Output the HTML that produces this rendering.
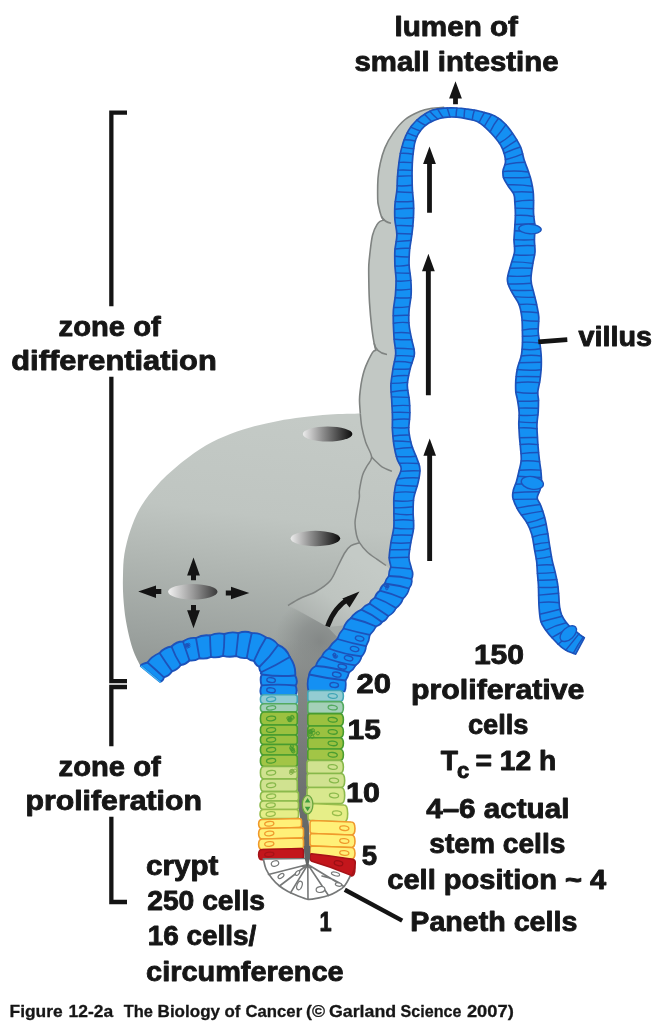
<!DOCTYPE html>
<html lang="en"><head><meta charset="utf-8"><title>Figure 12-2a The Biology of Cancer</title>
<style>
html,body{margin:0;padding:0;background:#fff;}
body{width:665px;height:1024px;overflow:hidden;}
svg{display:block;will-change:transform;}
</style></head><body>
<svg width="665" height="1024" viewBox="0 0 665 1024" role="img" aria-label="Crypt and villus of the small intestine">
<defs>
<linearGradient id="gg" gradientUnits="userSpaceOnUse" x1="260" y1="410" x2="225" y2="700">
<stop offset="0" stop-color="#c4cac6"/><stop offset="0.36" stop-color="#bfc5c1"/><stop offset="0.55" stop-color="#b0b6b2"/><stop offset="0.8" stop-color="#9ca29f"/><stop offset="1" stop-color="#8c918e"/></linearGradient>
<linearGradient id="wedge" gradientUnits="userSpaceOnUse" x1="360" y1="560" x2="315" y2="625">
<stop offset="0" stop-color="#c4cac6"/><stop offset="0.6" stop-color="#bec4c0"/><stop offset="1" stop-color="#adb2af"/></linearGradient>
<radialGradient id="shadow" gradientUnits="userSpaceOnUse" cx="320" cy="642" r="46">
<stop offset="0" stop-color="#828685" stop-opacity="0.95"/><stop offset="0.45" stop-color="#868a89" stop-opacity="0.7"/><stop offset="1" stop-color="#8d918f" stop-opacity="0"/></radialGradient>
<linearGradient id="eg" x1="0" y1="0" x2="1" y2="0"><stop offset="0" stop-color="#ececec"/><stop offset="0.4" stop-color="#8e8e8e"/><stop offset="1" stop-color="#0c0c0c"/></linearGradient>
<linearGradient id="eg3" x1="0" y1="0" x2="1" y2="0"><stop offset="0" stop-color="#f2f2f2"/><stop offset="0.5" stop-color="#9a9a9a"/><stop offset="1" stop-color="#3a3a3a"/></linearGradient>
<linearGradient id="lum" gradientUnits="userSpaceOnUse" x1="0" y1="640" x2="0" y2="860"><stop offset="0" stop-color="#868a88" stop-opacity="0"/><stop offset="0.18" stop-color="#858887" stop-opacity="1"/><stop offset="0.4" stop-color="#7c7f7e"/><stop offset="1" stop-color="#5e6161"/></linearGradient>
</defs>
<rect width="665" height="1024" fill="#fff"/>
<path d="M444.2 107.3C442.2 107.5 436.2 107.6 432.2 108.3C428.2 109 424.7 109.4 420.2 111.3C415.7 113.2 409.6 115.9 405.1 119.5C400.6 123.1 396.5 128.3 393.1 133.1C389.7 137.9 386.9 143.1 384.8 148.1C382.7 153.1 381.4 158.2 380.3 163.2C379.2 168.2 378.4 172.2 378 178.2C377.6 184.2 377.6 194.4 377.7 199.2C377.8 204 378.2 204.1 378.8 207C379.4 209.9 380.6 214.3 381.4 216.5C382.2 218.7 383.4 219.7 383.8 220.3C382 220.4 378.7 222 377 224.6C375.3 227.2 373.7 230.8 372.6 235C371.5 239.2 370.9 245 370.3 250C369.7 255 369.1 260 368.8 265C368.6 270 368.7 273.7 368.8 280C368.9 286.3 369 294.6 369.5 302.6C370 310.6 371 321.3 371.8 328.1C372.6 334.9 373.4 339.5 374.1 343.2C374.8 346.9 375.5 349.1 375.8 350.3C374.6 350.6 373.8 350.6 372.6 352.4C371.4 354.2 369.4 358.2 368 361.2C366.6 364.2 365.3 367.2 364.3 370.2C363.3 373.2 362.7 375.9 362 379.2C361.3 382.5 360.7 386.5 360.3 390C359.9 393.5 359.5 396.1 359.5 400C359.5 403.9 360.2 411.3 360.3 413.6C355.2 413.8 339.7 413.9 330 414.5C320.3 415.1 310.8 416.2 302.2 417.3C293.6 418.4 286.1 419.4 278.1 420.9C270.1 422.4 262.3 424.1 254.3 426.3C246.3 428.5 238.3 430.8 230.3 433.9C222.3 437 214.2 440.5 206.2 445.2C198.2 449.9 190.2 455.6 182.2 462.1C174.2 468.6 164.9 476.9 158.1 484.2C151.3 491.5 145.9 498.3 141.3 505.9C136.7 513.5 133.3 521.9 130.5 529.9C127.7 537.9 125.7 546.5 124.4 554C123.2 561.5 123.2 567.8 123 575C122.8 582.2 122.8 589.5 123.3 597C123.8 604.5 124.6 612.7 125.8 620C127 627.3 128.8 635.2 130.3 641C131.8 646.8 133.2 650.8 135 655C136.8 659.2 139.8 664.6 140.8 666.5L150 673L168 660L190 650L215 644L240 644L260 650L275 662L279 680L279 691L326 691L326.6 691.2L327.4 677.5L332.4 669.2L338.8 660.9L345.2 652.4L351.6 642.6L356.6 631.6L363.5 622.2L371.7 615.8L378.9 609.8L385.5 602.8L391.4 594.6L396.9 586L400.1 577.5L401.1 568.1L399.1 557.7L400.9 542.7L403.7 527.7L403.5 512.6L403.9 497.6L407.1 482.6L410.6 469L407.1 459L402.8 445L400.6 430L401.1 415L400.5 400L399.1 385L401.5 369L405.1 353.7L403 340L401.2 325L401.2 310L403.2 295L403.4 280L402 265L402.3 250L404.4 235L404.1 220L404.3 205L404.7 190L404.7 178.2L405.6 163.2L407.4 149.6L410.8 137.6L416.4 127.8L424.7 119.9L435.9 114.2L446.1 112.6L457 112.6Z" fill="url(#gg)"/>
<path d="M444.2 107.3C442.2 107.5 436.2 107.6 432.2 108.3C428.2 109 424.7 109.4 420.2 111.3C415.7 113.2 409.6 115.9 405.1 119.5C400.6 123.1 396.5 128.3 393.1 133.1C389.7 137.9 386.9 143.1 384.8 148.1C382.7 153.1 381.4 158.2 380.3 163.2C379.2 168.2 378.4 172.2 378 178.2C377.6 184.2 377.6 194.4 377.7 199.2C377.8 204 378.2 204.1 378.8 207C379.4 209.9 380.6 214.3 381.4 216.5C382.2 218.7 383.4 219.7 383.8 220.3C382 220.4 378.7 222 377 224.6C375.3 227.2 373.7 230.8 372.6 235C371.5 239.2 370.9 245 370.3 250C369.7 255 369.1 260 368.8 265C368.6 270 368.7 273.7 368.8 280C368.9 286.3 369 294.6 369.5 302.6C370 310.6 371 321.3 371.8 328.1C372.6 334.9 373.4 339.5 374.1 343.2C374.8 346.9 375.5 349.1 375.8 350.3C374.6 350.6 373.8 350.6 372.6 352.4C371.4 354.2 369.4 358.2 368 361.2C366.6 364.2 365.3 367.2 364.3 370.2C363.3 373.2 362.7 375.9 362 379.2C361.3 382.5 360.7 386.5 360.3 390C359.9 393.5 359.5 396.1 359.5 400C359.5 403.9 360.2 411.3 360.3 413.6L361.8 427L365.6 442L371.6 457L391.9 471.3L405 470L401 410L402 300L404 200L409 139L417 123.5L432 114.3Z" fill="#c2c8c4"/>
<path d="M288 605.5C290 604.3 295.3 600.8 300 598.5C304.7 596.2 311 594.4 316 591.5C321 588.6 326.3 585.2 330 581C333.7 576.8 335.5 570.8 338 566C340.5 561.2 342.8 555.9 345 552.5C347.2 549.1 348.6 547.3 351 545.7C353.4 544.1 358.1 543.2 359.5 542.7L367 551.7L386 565.5L395 575L390 595L370 612L348 625L327.5 627Z" fill="url(#wedge)"/>
<path d="M287 604L327.5 627L340 640L320 695L290 695L280 660L262 640L262 618Z" fill="url(#shadow)"/>
<path d="M444.2 107.3C442.2 107.5 436.2 107.6 432.2 108.3C428.2 109 424.7 109.4 420.2 111.3C415.7 113.2 409.6 115.9 405.1 119.5C400.6 123.1 396.5 128.3 393.1 133.1C389.7 137.9 386.9 143.1 384.8 148.1C382.7 153.1 381.4 158.2 380.3 163.2C379.2 168.2 378.4 172.2 378 178.2C377.6 184.2 377.6 194.4 377.7 199.2C377.8 204 378.2 204.1 378.8 207C379.4 209.9 380.6 214.3 381.4 216.5C382.2 218.7 383.4 219.7 383.8 220.3C382 220.4 378.7 222 377 224.6C375.3 227.2 373.7 230.8 372.6 235C371.5 239.2 370.9 245 370.3 250C369.7 255 369.1 260 368.8 265C368.6 270 368.7 273.7 368.8 280C368.9 286.3 369 294.6 369.5 302.6C370 310.6 371 321.3 371.8 328.1C372.6 334.9 373.4 339.5 374.1 343.2C374.8 346.9 375.5 349.1 375.8 350.3C374.6 350.6 373.8 350.6 372.6 352.4C371.4 354.2 369.4 358.2 368 361.2C366.6 364.2 365.3 367.2 364.3 370.2C363.3 373.2 362.7 375.9 362 379.2C361.3 382.5 360.7 386.5 360.3 390C359.9 393.5 359.5 396.1 359.5 400C359.5 403.9 360.2 411.3 360.3 413.6" fill="none" stroke="#7f8381" stroke-width="1.6"/>
<path d="M381.4 216.5Q384.5 222 391 223.3M374.1 343.2Q376 353 387 354.5" fill="none" stroke="#7f8381" stroke-width="1.6"/>
<path d="M360.3 413.6C360.6 415.8 360.9 422.3 361.8 427C362.7 431.7 364 437 365.6 442C367.2 447 371.4 453 371.6 457C371.8 461 368.5 463 367 466C365.5 469 363.9 471 362.6 475C361.4 479 360.1 486.2 359.5 490C358.9 493.8 359.8 494.2 359.3 498C358.8 501.8 357.2 508.4 356.5 512.6C355.8 516.8 355 519.3 355 523C355 526.7 355.8 531.7 356.5 535C357.2 538.3 357.8 539.9 359.5 542.7C361.2 545.5 364.1 549 367 551.7C369.9 554.5 373.6 556.9 376.8 559.2C380 561.5 384.5 564.5 386 565.5" fill="none" stroke="#7f8381" stroke-width="1.5"/>
<path d="M371.6 457C372.3 457.8 374.3 459.9 376 461.5C377.7 463.1 379.4 465.2 382 466.8C384.6 468.4 390.2 470.6 391.9 471.3" fill="none" stroke="#7f8381" stroke-width="1.5"/>
<path d="M359.5 542.7C358.1 543.2 353.4 544.1 351 545.7C348.6 547.3 347.2 549.1 345 552.5C342.8 555.9 340.5 561.2 338 566C335.5 570.8 333.7 576.8 330 581C326.3 585.2 321 588.6 316 591.5C311 594.4 304.7 596.2 300 598.5C295.3 600.8 290 604.3 288 605.5" fill="none" stroke="#7f8381" stroke-width="1.5"/>
<path d="M270 640C273.3 643.3 285.4 651.7 290 660C294.6 668.3 296.1 680 297.3 690C298.6 700 297.5 708.3 297.5 720C297.5 731.7 297.2 746.7 297.3 760C297.4 773.3 297.3 790 297.8 800C298.3 810 299.6 813.3 300.5 820C301.4 826.7 302.2 833.7 303 840C303.8 846.3 305.1 855 305.5 858L310 858C309.9 855 309.8 846.3 309.5 840C309.2 833.7 309.2 826.2 308.5 820C307.8 813.8 305.8 808 305.5 803C305.2 798 306.7 797.2 307 790C307.3 782.8 307.4 771.7 307.5 760C307.6 748.3 307.6 731.7 307.8 720C308.1 708.3 307.3 698.7 309 690C310.7 681.3 312 676.3 318 668C324 659.7 340.5 644.7 345 640Z" fill="url(#lum)"/>
<ellipse cx="327.6" cy="434" rx="24.8" ry="7.6" fill="url(#eg)"/>
<ellipse cx="315.4" cy="538.5" rx="24.8" ry="7.7" fill="url(#eg)"/>
<ellipse cx="192.8" cy="591.8" rx="24.7" ry="7.7" fill="url(#eg3)"/>
<path d="M457.9 104.2L457.9 98.6L461.9 98.6L455.5 81.2L449.1 98.6L453.1 98.6L453.1 104.2Z" fill="#141414"/>
<path d="M431.9 212.8L431.9 163.9L435.9 163.9L429.5 146.6L423.1 163.9L427.1 163.9L427.1 212.8Z" fill="#141414"/>
<path d="M430.8 395.3L430.8 271.3L434.8 271.3L428.4 253.8L422 271.3L425.9 271.3L425.9 395.3Z" fill="#141414"/>
<path d="M432.1 561L432.1 455.7L436 455.7L429.7 438.4L423.4 455.7L427.2 455.7L427.2 561Z" fill="#141414"/>
<path d="M196 580.3L196 575.4L199.9 575.4L193.5 557.4L187.1 575.4L191 575.4L191 580.3Z" fill="#141414"/>
<path d="M191 605.1L191 610.2L187.1 610.2L193.5 628.2L199.9 610.2L196 610.2L196 605.1Z" fill="#141414"/>
<path d="M161.3 589.1L156 589.1L156 585.4L138.2 591.6L156 597.9L156 594.1L161.3 594.1Z" fill="#141414"/>
<path d="M225.8 595.5L231 595.5L231 599.2L249.3 593L231 586.8L231 590.5L225.8 590.5Z" fill="#141414"/>
<path d="M327.5 626.5Q334.5 606.5 350 598.2" fill="none" stroke="#141414" stroke-width="4.8"/>
<path d="M359.5 591.6L342.4 598.6L349.6 607.5Z" fill="#141414"/>
<path d="M140.8 666Q140.9 664 147.5 662.5Q151.4 656.5 159.6 653Q164.5 647.3 171.5 646.5Q176.3 641.6 183 641.5Q188.6 637.3 196 638Q202.6 634.3 210 635.5Q217.2 632.3 224.3 634Q231.7 631.2 238.4 633.2Q245.3 630.4 251.7 633.2Q259.8 632.4 266.1 637.6Q273.7 638.5 278.1 645Q286.5 648.2 289.8 657Q296.1 666.1 295.2 675.5Q298.3 681.7 295.6 685.5Q297.8 691.5 295.6 695L261.4 695Q259.3 691.5 261.6 685.3Q259.6 678.9 261.8 674.5Q259.9 673 261.6 672Q259.4 671.3 259.3 667Q256 665.6 254 661Q250.4 661 246.8 657.9Q241.8 658.8 236 656Q229.5 657.7 223 655.8Q216.8 658.3 211 656.8Q205.2 659.5 199.5 658.2Q194.7 661.1 189.5 660.5Q185.9 664.3 180.8 665Q177.4 669.9 172 671.3Q168.9 676.2 164 677.3Q162.7 681.7 160 681.8Z" fill="#1490f3" stroke="#1d52ba" stroke-width="1.9" stroke-linejoin="round"/>
<path d="M147.5 662.5Q155.8 669.8 164 677.3M159.6 653Q165.6 662.3 172 671.3M171.5 646.5Q175.1 656.3 180.8 665M183 641.5Q186.3 651 189.5 660.5M196 638Q197.7 648.1 199.5 658.2M210 635.5Q210.2 646.2 211 656.8M224.3 634Q224.6 645 223 655.8M238.4 633.2Q237.2 644.6 236 656M251.7 633.2Q248.8 645.5 246.8 657.9M266.1 637.6Q259.1 648.8 254 661M278.1 645Q270 657.1 259.3 667M289.8 657Q276.1 665.3 261.6 672M295.2 675.5Q278.4 676.9 261.8 674.5M295.6 685.5Q278.6 683.9 261.6 685.3" fill="none" stroke="#1d52ba" stroke-width="1.8" stroke-linecap="round"/>

<path d="M308.6 691Q306.3 683.7 309.2 674.5Q310.1 669 315.9 666Q317.2 660.8 322 656.5Q323.4 652.1 328.8 648.5Q331.4 643.6 337.3 639Q338.8 633.5 343.5 628.5Q345 622.5 351 618Q354.5 612.5 361.4 609.6Q364.6 605.3 369.5 603.6Q371.1 599.7 375 597.5Q375.8 593.5 379.8 590.7Q380.7 586.7 384.8 583.5Q385.4 579.7 388.8 576Q388.7 571.7 390.8 567.2C390.9 564.2 389.1 561.8 389.2 557.7C389.2 553.6 390.2 547.7 390.9 542.7C391.7 537.7 393.2 532.7 393.8 527.7C394.2 522.7 393.9 517.6 393.9 512.6C394 507.6 393.6 502.6 393.9 497.6C394.3 492.6 394.9 487.4 396.2 482.6C397.4 477.8 401.1 472.9 401.2 469C401.4 465.1 398.3 463 397.1 459C395.8 455 394.7 449.8 393.9 445C393.2 440.2 392.7 435 392.4 430C392.2 425 392.6 420 392.4 415C392.3 410 391.9 405 391.7 400C391.4 395 390.7 390.2 390.9 385C391.2 379.8 392.2 374.2 392.9 369C393.7 363.8 395.5 358.5 395.7 353.7C395.9 348.9 394.5 344.8 394.2 340C393.8 335.2 393.6 330 393.4 325C393.3 320 393.1 315 393.4 310C393.8 305 394.9 300 395.4 295C395.8 290 396.1 285 396.1 280C396 275 395.1 270 394.9 265C394.8 260 394.6 255 394.9 250C395.3 245 396.9 240 396.9 235C396.9 230 395.3 225 394.9 220C394.6 215 394.6 210 394.9 205C395.3 200 396.5 194.5 396.9 190C397.4 185.5 397 182.7 397.4 178.2C397.7 173.7 398.2 168 398.9 163.2C399.5 158.4 400 154.1 401.2 149.6C402.3 145.1 403.9 140.2 405.6 136.2C407.4 132.3 409.1 129 411.6 125.8C414.1 122.6 417.1 119.5 420.6 116.8C424.1 114.2 428.6 111.5 432.5 110C436.5 108.6 440.3 108.5 444.4 108.1C448.5 107.8 453.1 107.8 457 108C460.9 108.1 463.9 108.6 467.9 109.2C471.9 109.8 476.3 110.4 480.8 111.5C485.3 112.6 490.7 113.9 494.8 116C498.9 118 502 120.7 505.3 124C508.5 127.4 511.7 132 514.3 135.9C516.9 139.9 519.3 143.8 520.9 147.8C522.5 151.8 522.9 156.2 524.1 159.8C525.2 163.4 526.6 166.5 527.7 169.5C528.7 172.6 529.6 175.1 530.5 178C531.3 180.9 532 184.3 532.5 187C532.9 189.7 533.2 191.7 533.4 194.2C533.5 196.7 533.5 198.7 533.6 202C533.6 205.3 533.3 209.8 533.6 214C533.8 218.2 534.8 222.7 535 227C535.1 231.3 534.4 235.8 534.4 240C534.4 244.2 535.2 248 535 252C534.7 256 533.4 259.4 532.8 264C532.1 268.6 530.8 275.1 531 279.7C531.1 284.3 532.5 287.7 533.5 291.7C534.4 295.7 535.6 299.6 536.5 303.8C537.3 308 538.5 312.3 538.8 317C539 321.7 538 327.5 538.2 332C538.4 336.5 539.5 340 540 344C540.5 348 541 352 541.2 356C541.4 360 541.4 364 541.2 368C541 372 540.5 376 540 380C539.4 384 538 388.7 537.8 392C537.5 395.3 538.4 396.7 538.5 400C538.5 403.3 538.4 408 538.2 412C537.9 416 537.1 420 537 424C536.8 428 537.1 432 537.4 436C537.6 440 537.8 444 538.2 448C538.5 452 538.9 456 539.4 460C539.8 464 540.6 468.4 541 472C541.3 475.6 541.6 478.7 541.5 481.7C541.3 484.7 540.7 487.3 540 490C539.2 492.7 537.1 495.5 537.2 498C537.4 500.5 539.4 502 540.6 505.2C541.8 508.4 543.5 512.9 544.6 517.3C545.8 521.6 546.6 526.4 547.4 531.2C548.3 536 548.9 541.3 549.7 546.2C550.5 551 551.2 555.8 552.1 560.1C553 564.4 554.2 568.1 555.1 572C556 576 557 580 557.6 584C558.2 588 558.5 592.2 558.8 596C559.1 599.9 559.1 604 559.6 607.1C560.1 610.2 560.6 612.3 561.6 614.8C562.7 617.2 564.1 619.7 565.7 621.8C567.2 623.9 568.9 625.7 570.7 627.5C572.6 629.2 575.2 630.8 576.9 632.1C578.5 633.4 579.2 634.3 580.5 635.2C581.7 636.2 583.6 637.4 584.3 637.8L575.6 654.2C574.4 653.8 570.9 652.7 568.5 651.6C566.2 650.4 564.1 649.4 561.4 647.2C558.8 645 555.2 641.3 552.5 638.3C549.8 635.4 547.3 632.3 545.3 629.5C543.4 626.7 541.9 624.9 540.9 621.4C539.8 618 539.6 613 539.2 608.9C538.8 604.8 538.8 601 538.7 597C538.6 593 538.6 589 538.4 585C538.2 581 537.7 576.8 537.4 573C537.1 569.1 537.2 565.9 536.7 561.9C536.2 557.9 535.2 553.4 534.4 548.8C533.6 544.3 533.1 539.1 531.9 534.8C530.6 530.4 529.2 526.9 526.9 522.7C524.5 518.6 520.2 513.9 517.9 509.8C515.6 505.7 513.7 501.3 512.9 498C512.2 494.7 512.9 492.7 513.4 490C514 487.3 515.5 484.7 516.4 481.7C517.3 478.7 518 475.6 518.8 472C519.6 468.4 521 464 521.2 460C521.5 456 520.8 452 520.5 448C520.2 444 519.7 440 519.4 436C519.2 432 518.9 428 518.8 424C518.8 420 519.4 416 519.1 412C518.9 408 518.1 403.3 517.5 400C517 396.7 516.1 395.3 515.8 392C515.6 388.7 515.6 384 515.8 380C516.1 376 516.6 372 517.5 368C518.4 364 520.4 360 521.2 356C522.1 352 522.2 348 522.4 344C522.6 340 522.5 336.5 522.4 332C522.3 327.5 522.4 321.7 521.8 317C521.2 312.3 520.6 308 518.8 303.8C517.1 299.6 513.5 295.7 511.6 291.7C509.6 287.7 507.4 284.3 507.4 279.7C507.3 275.1 509.9 268.6 511.1 264C512.2 259.4 514 256 514.5 252C515 248 514 244.2 514 240C514.1 235.8 514.6 231.3 514.8 227C515.1 222.7 515.4 218.2 515.4 214C515.4 209.8 515.1 205.3 514.8 202C514.6 198.7 514.9 196.9 513.8 194.2C512.6 191.5 509.7 188.5 508 185.7C506.3 183 504.4 180.3 503.5 177.7C502.7 175.1 502.8 172.7 503.1 170.2C503.5 167.7 505.2 165.2 505.4 162.6C505.7 160.1 505.3 157.8 504.6 155C503.9 152.2 502.7 148.6 501 145.7C499.4 142.7 497.3 140.1 494.8 137.2C492.4 134.3 489.3 131 486.3 128.3C483.4 125.7 480.6 123.1 477.2 121.5C473.8 119.9 469.5 119.4 466.1 118.7C462.7 118 460 117.5 457 117.2C454 117 450.7 116.9 447.8 117.1C444.9 117.3 442.5 117.5 439.4 118.5C436.2 119.5 431.8 121.1 428.8 123C425.7 124.9 423.3 127.1 421.2 129.8C419 132.5 417.1 135.7 415.9 139C414.6 142.3 414.1 145.6 413.6 149.6C413 153.6 412.6 158.4 412.3 163.2C412.1 168 412 173.7 412.1 178.2C412.1 182.7 412.2 185.5 412.4 190C412.7 194.5 413.5 200 413.6 205C413.8 210 413.6 215 413.3 220C413 225 412.5 230 411.8 235C411.2 240 410.1 245 409.6 250C409.2 255 408.9 260 409.1 265C409.2 270 410.5 275 410.8 280C411.2 285 411.4 290 411.1 295C410.8 300 409.4 305 409.1 310C408.7 315 408.6 320 409.1 325C409.5 330 410.9 335.2 411.8 340C412.7 344.8 414.8 348.9 414.4 353.7C414.1 358.5 411.2 363.8 410.1 369C408.9 374.2 407.5 379.8 407.3 385C407.2 390.2 408.9 395 409.3 400C409.8 405 409.9 410 409.8 415C409.8 420 408.5 425 408.8 430C409.1 435 410.3 440.2 411.6 445C413 449.8 415.7 455 417.1 459C418.4 463 419.8 465.1 419.9 469C420.1 472.9 419.2 477.8 418.1 482.6C417.1 487.4 414.7 492.6 413.8 497.6C413 502.6 413.2 507.6 413.1 512.6C413.1 517.6 414 522.7 413.6 527.7C413.3 532.7 411.6 537.7 410.8 542.7C410.1 547.7 408.8 553.3 408.9 557.7C409.1 562.1 411.1 565.5 411.5 569Q413.9 574.4 411.5 579Q412.8 584 409 588.5Q408.3 594 403 598.5Q401.4 604.2 396 608Q393.6 613.4 388.3 616Q386.4 620.4 382 622Q380.6 624.7 376 626.5Q374.4 630.3 369.8 634.8Q369.4 640.7 366 646.2Q365.8 652 361.6 656.3Q360.6 661.6 355.6 665.3Q353.7 669.4 349 672.5Q348.3 676.4 345.5 680.5Q346.4 687.2 344.6 691.5Z" fill="#1490f3" stroke="#1d52ba" stroke-width="1.7" stroke-linejoin="round"/>
<path d="M390.8 567.2Q401.2 568 411.5 569M389.2 557.7Q399 557.5 408.9 557.2M389.9 549.8Q399.8 549.5 409.7 549.4M390.9 542.7Q400.9 543.6 410.8 542.7M392.5 535.2Q402.4 534.7 412.4 535.3M393.7 528Q403.6 529.3 413.6 528.7M394 520.4Q403.8 519.1 413.6 520.6M393.9 513.6Q403.5 515.3 413.2 514.4M393.9 507.8Q403.6 508.1 413.2 506.8M393.8 500.8Q403.7 501.9 413.5 500.4M394.4 492.6Q404.8 491.3 415.2 492.4M395.6 485.1Q406.4 485.8 417.2 486.2M397.4 479Q408.2 477.4 419.1 478M400.8 471.4Q410.4 470.4 420 470.9M399.2 463.3Q409 462.9 418.8 463.5M396.3 456.5Q406.2 457.3 416 456.2M394.7 449.1Q403.5 447.6 412.5 447.5M393.4 441.1Q402.1 441 410.8 441.9M392.9 436Q401.1 434.9 409.4 435.1M392.4 427.6Q400.6 428.6 408.8 427.5M392.5 419.7Q401 418.7 409.6 419.2M392.4 412.4Q401.1 411.9 409.9 412.6M392 406Q400.8 405 409.7 405.6M391.5 396.9Q400.3 397 409 397.4M391.1 392Q399.4 390.5 407.8 390.3M391 383.4Q399.3 383.2 407.5 382.4M391.8 376.6Q400.1 375.1 408.6 375.6M392.9 369.1Q401.5 369.3 410.1 369M394.4 361.7Q403.3 361.2 411.9 363M395.5 355.8Q404.8 355.3 414 356.4M395.3 348.3Q404.7 348.4 414.1 349.1M394.1 339.2Q402.9 339.9 411.8 339.7M393.7 332.9Q402.1 331.9 410.4 333.1M393.4 323.2Q401.1 321.9 408.9 322.7M393.3 315.7Q401 315 408.8 315.2M393.7 307.5Q401.6 307.6 409.4 306.6M395.1 297.7Q403 298.4 410.9 297.8M395.8 289.7Q403.6 290.3 411.3 289.1M396.1 281Q403.5 281.5 410.9 280.4M395.6 272.9Q402.8 273.3 410 273.3M395 266Q402.1 266.5 409.1 265M394.8 256.3Q401.9 257 409.1 256.9M395 249Q402.4 247.8 409.8 248.3M396.2 241.6Q403.6 241 411 240.5M396.9 233.5Q404.4 233.9 412 233.9M395.7 225.6Q404.3 225.3 412.9 226M394.8 217.6Q404.1 218.7 413.5 217.7M394.7 209.2Q404.2 208.3 413.7 208.3M395.3 201.6Q404.4 202.1 413.4 201.2M396.8 191.7Q404.7 192.3 412.6 192.5M397.2 185.8Q404.7 186.2 412.2 185.2M397.5 176.3Q404.8 175.7 412 175.9M398.1 170.1Q405.1 169.7 412.1 170.4M399 162.4Q405.7 162.2 412.4 162.6M400.3 153.4Q406.7 153 413 154.2M401.8 147.1Q407.7 148.3 413.7 148.8M404.2 139.7Q409.8 139.6 415.2 141M407.3 132.8Q411.9 135.1 416.9 136.6M410.7 127.1Q415.4 129.2 420.3 131M416.7 120.1Q420.9 123.1 425.5 125.4M424.5 114.2Q428 117.8 431.5 121.5M429.7 111.2Q433.5 115.4 437.7 119M437.5 108.8Q440.1 113.3 443.1 117.6M447.2 107.9Q448.7 112.4 450 117M457 108Q456 112.5 456.1 117.2M464.8 108.8Q464.2 113.5 464 118.2M474.4 110.2Q472.8 114.9 472.2 119.8M484.5 112.4Q481.6 117.4 479.1 122.5M491.6 114.6Q487.7 120.4 484.3 126.5M498.5 118.2Q493.4 124.5 490.1 131.9M505.9 124.7Q501.1 131.6 495.6 138M512.5 133.3Q506.6 139 499.5 143.2M516.9 140.1Q509.8 144.7 502.7 149.3M520.5 147Q512.1 149.5 504.2 153.4M522.7 153.9Q514.3 157.6 505.5 159.5M524.9 162.2Q514.8 162.5 505 164.7M528.5 172Q515.8 170.2 503 171.6M530.3 177.3Q516.9 178.2 503.5 177.6M532.3 186.2Q520 184.3 507.5 184.8M533.2 192.3Q522.9 191.2 512.6 192.1M533.5 200.4Q524.1 199.9 514.8 201.8M533.5 208.8Q524.4 208.4 515.3 208.1M533.8 216.5Q524.7 214.7 515.4 215.4M534.7 223.7Q524.8 223.9 515 224.5M534.8 231.8Q524.7 231.2 514.6 230.7M534.4 239.6Q524.2 240.3 514.1 239.6M534.7 245.7Q524.6 245.1 514.5 246.2M534.6 254.9Q524.3 255.7 514 254.7M532.8 263.4Q522.3 261.8 511.7 261.9M532.1 268.2Q520.9 267.7 509.8 268.3M531.1 275.5Q519.4 277 507.7 276M531.3 283.3Q519.7 284.4 508 283.9M533.1 290.4Q522 290.7 510.8 290.2M534.8 297.2Q524.6 297.7 514.5 296.6M536.6 304.7Q527.9 303.7 519.1 304.5M538.3 312.8Q529.7 311.7 521.1 311.7M538.7 321.3Q530.4 321.2 522.2 320.2M538.2 328.7Q530.2 328.6 522.4 330.1M538.5 335.4Q530.5 336.4 522.5 336.3M539.8 343Q531.2 341.9 522.5 342.2M540.5 348.8Q531.4 350.3 522.1 349.3M541.2 356Q531.2 354.7 521.2 356M541.3 362.3Q530.2 362.5 519.2 362.7M541.1 369.7Q529.1 370.9 517.2 369.5M540.4 376.7Q528.3 376.4 516.1 376.6M539.5 382.6Q527.6 381.5 515.7 382.7M537.7 393Q526.7 393.8 515.8 392M538.5 400.7Q528.1 401.5 517.8 401.2M538.3 408.3Q528.6 407.9 518.8 408.1M537.9 414.9Q528.5 415.9 519.2 415.2M537 422.5Q527.9 422.9 518.9 421.9M537 428.8Q528 427.3 519 427.9M537.4 437.5Q528.5 437.3 519.6 437.8M537.9 444.6Q529.1 443.3 520.2 444.5M538.5 452.4Q529.8 452.4 521.1 453.6M539.6 461.7Q530.4 460.3 521.2 461M540.7 470.1Q530 469.4 519.3 470.2M541.4 477.5Q529.6 477.4 517.9 476.3M541.3 483.6Q528.4 483.4 515.5 484.2M539.4 491.7Q526.1 491.6 512.9 492.8M537.4 499.1Q525.4 499.1 513.3 499.4M540.3 504.5Q528.5 505.6 516.9 508.1M542.8 511.1Q532 512.7 521.4 515M544.6 517.3Q536.2 521.2 527 523M546.2 524.3Q538.1 527 529.7 528.5M547.8 533.7Q539.9 534.3 532.4 537M549.1 542.4Q541.3 542.9 533.7 544.7M550.1 548.3Q542.6 550.7 534.8 551.1M551.4 556.4Q543.9 558.3 536.3 558.9M553.3 565Q545.1 564.2 537 565.4M555.2 572.4Q546.3 573.2 537.4 573.4M556.8 579.5Q547.4 580.5 538 580.2M558 587Q548.3 587.9 538.5 587.4M558.6 593.2Q548.6 594.4 538.6 595.1M559.2 602.7Q549 601.3 538.9 602.6M560 609.3Q549.9 612 539.7 614.2M562.3 616.2Q551.6 618.9 541 621.8M566.3 622.7Q555.6 625.1 545.9 630.3M570.7 627.5Q561.1 632.2 551.8 637.6M574.9 630.7Q566.4 637.3 558.1 644.2M578.9 633.9Q572.5 642.1 565.8 650.1M583.2 637.1Q577.7 644.9 573.3 653.4" fill="none" stroke="#1d52ba" stroke-width="1.45" stroke-linecap="round"/>
<path d="M309.2 674.5Q327.2 678.5 345.5 680.5M315.9 666Q332.9 667.1 349 672.5M322 656.5Q338.2 663.2 355.6 665.3M328.8 648.5Q344.7 654.5 361.6 656.3M337.3 639Q351.5 643.2 366 646.2M343.5 628.5Q356.5 632.1 369.8 634.8M351 618Q363.9 621.1 376 626.5M361.4 609.6Q372.5 614.4 382 622M369.5 603.6Q378.9 609.9 388.3 616M375 597.5Q386.1 601.5 396 608M379.8 590.7Q391.7 593.6 403 598.5M384.8 583.5Q397.1 585.1 409 588.5M388.8 576Q400.3 576 411.5 579" fill="none" stroke="#1d52ba" stroke-width="1.8" stroke-linecap="round"/>

<ellipse cx="334.2" cy="685" rx="4.3" ry="2.4" transform="rotate(5.1 334.2 685)" fill="none" stroke="#1d52ba" stroke-width="1.4"/>
<ellipse cx="336.8" cy="674.6" rx="4.3" ry="2.4" transform="rotate(10.2 336.8 674.6)" fill="none" stroke="#1d52ba" stroke-width="1.4"/>
<ellipse cx="342.3" cy="666.6" rx="4.3" ry="2.4" transform="rotate(12.9 342.3 666.6)" fill="none" stroke="#1d52ba" stroke-width="1.4"/>
<ellipse cx="348.6" cy="658.3" rx="4.3" ry="2.4" transform="rotate(14 348.6 658.3)" fill="none" stroke="#1d52ba" stroke-width="1.4"/>
<ellipse cx="354.6" cy="649" rx="4.3" ry="2.4" transform="rotate(13.7 354.6 649)" fill="none" stroke="#1d52ba" stroke-width="1.4"/>
<ellipse cx="359.6" cy="638.5" rx="4.3" ry="2.4" transform="rotate(13.8 359.6 638.5)" fill="none" stroke="#1d52ba" stroke-width="1.4"/>
<ellipse cx="271.1" cy="680.1" rx="4.3" ry="2.4" transform="rotate(8 271.1 680.1)" fill="none" stroke="#1d52ba" stroke-width="1.4"/>
<ellipse cx="271" cy="690.2" rx="4.3" ry="2.4" transform="rotate(8 271 690.2)" fill="none" stroke="#1d52ba" stroke-width="1.4"/>
<ellipse cx="530" cy="229" rx="11.2" ry="4.8" transform="rotate(3 530 229)" fill="#1490f3" stroke="#1d52ba" stroke-width="1.4"/>
<ellipse cx="532.3" cy="482.9" rx="11.2" ry="6.3" transform="rotate(10 532.3 482.9)" fill="#1490f3" stroke="#1d52ba" stroke-width="1.4"/>
<ellipse cx="568.3" cy="633.6" rx="9.8" ry="5.8" transform="rotate(-42 568.3 633.6)" fill="#1490f3" stroke="#1d52ba" stroke-width="1.4"/>
<path d="M264.1 694.7L294.9 694.7Q297.3 694.7 297.3 697.2L297.3 701.3Q297.3 703.8 294.9 703.8L264.1 703.8C259.2 703.8 259.2 694.7 264.1 694.7Z" fill="#93ccd2" stroke="#42a6b6" stroke-width="1.6" stroke-linejoin="round"/><ellipse cx="271.1" cy="699.2" rx="4.6" ry="2.3" transform="rotate(-6 271.1 699.2)" fill="none" stroke="#42a6b6" stroke-width="1.3"/>
<path d="M264.1 703.8L294.9 703.8Q297.3 703.8 297.3 706.2L297.3 709.5Q297.3 712 294.9 712L264.1 712C259.2 712 259.2 703.8 264.1 703.8Z" fill="#a4d0b8" stroke="#54aa60" stroke-width="1.6" stroke-linejoin="round"/><ellipse cx="271.1" cy="707.9" rx="4.6" ry="2.1000000000000227" transform="rotate(-6 271.1 707.9)" fill="none" stroke="#54aa60" stroke-width="1.3"/>
<path d="M264.1 712L294.9 712Q297.3 712 297.3 714.5L297.3 722.5Q297.3 725 294.9 725L264.1 725C259.2 725 259.2 712 264.1 712Z" fill="#9bc140" stroke="#479c2f" stroke-width="1.6" stroke-linejoin="round"/><ellipse cx="271.1" cy="718.5" rx="4.6" ry="2.3" transform="rotate(-6 271.1 718.5)" fill="none" stroke="#479c2f" stroke-width="1.3"/>
<path d="M264.1 725L294.9 725Q297.3 725 297.3 727.5L297.3 732.5Q297.3 735 294.9 735L264.1 735C259.2 735 259.2 725 264.1 725Z" fill="#9bc140" stroke="#479c2f" stroke-width="1.6" stroke-linejoin="round"/><ellipse cx="271.1" cy="730" rx="4.6" ry="2.3" transform="rotate(-6 271.1 730)" fill="none" stroke="#479c2f" stroke-width="1.3"/>
<path d="M264.1 735L294.9 735Q297.3 735 297.3 737.5L297.3 742Q297.3 744.5 294.9 744.5L264.1 744.5C259.2 744.5 259.2 735 264.1 735Z" fill="#9bc140" stroke="#479c2f" stroke-width="1.6" stroke-linejoin="round"/><ellipse cx="271.1" cy="739.8" rx="4.6" ry="2.3" transform="rotate(-6 271.1 739.8)" fill="none" stroke="#479c2f" stroke-width="1.3"/>
<path d="M264.1 744.5L294.9 744.5Q297.3 744.5 297.3 747L297.3 752.5Q297.3 755 294.9 755L264.1 755C259.2 755 259.2 744.5 264.1 744.5Z" fill="#9bc140" stroke="#479c2f" stroke-width="1.6" stroke-linejoin="round"/><ellipse cx="271.1" cy="749.8" rx="4.6" ry="2.3" transform="rotate(-6 271.1 749.8)" fill="none" stroke="#479c2f" stroke-width="1.3"/>
<path d="M264.1 755L294.9 755Q297.3 755 297.3 757.5L297.3 764Q297.3 766.5 294.9 766.5L264.1 766.5C259.2 766.5 259.2 755 264.1 755Z" fill="#a2c546" stroke="#4c9e30" stroke-width="1.6" stroke-linejoin="round"/><ellipse cx="271.1" cy="760.8" rx="4.6" ry="2.3" transform="rotate(-6 271.1 760.8)" fill="none" stroke="#4c9e30" stroke-width="1.3"/>
<path d="M264.1 766.5L294.9 766.5Q297.3 766.5 297.3 769L297.3 776.5Q297.3 779 294.9 779L264.1 779C259.2 779 259.2 766.5 264.1 766.5Z" fill="#d0e290" stroke="#86b84a" stroke-width="1.6" stroke-linejoin="round"/><ellipse cx="271.1" cy="772.8" rx="4.6" ry="2.3" transform="rotate(-6 271.1 772.8)" fill="none" stroke="#86b84a" stroke-width="1.3"/>
<path d="M264.1 779L294.9 779Q297.3 779 297.3 781.5L297.3 789.1Q297.3 791.6 294.9 791.6L264.1 791.6C259.2 791.6 259.2 779 264.1 779Z" fill="#d0e290" stroke="#86b84a" stroke-width="1.6" stroke-linejoin="round"/><ellipse cx="271.1" cy="785.3" rx="4.6" ry="2.3" transform="rotate(-6 271.1 785.3)" fill="none" stroke="#86b84a" stroke-width="1.3"/>
<path d="M264.1 791.6L296.1 791.6Q298.5 791.6 298.5 794.1L298.5 798.5Q298.5 801 296.1 801L264.1 801C259.2 801 259.2 791.6 264.1 791.6Z" fill="#d8e88e" stroke="#8cba4c" stroke-width="1.6" stroke-linejoin="round"/><ellipse cx="271.1" cy="796.3" rx="4.6" ry="2.3" transform="rotate(-6 271.1 796.3)" fill="none" stroke="#8cba4c" stroke-width="1.3"/>
<path d="M263.7 801L296.1 801Q298.5 801 298.5 803.5L298.5 807Q298.5 809.5 296.1 809.5L263.7 809.5C258.8 809.5 258.8 801 263.7 801Z" fill="#d8e88e" stroke="#8cba4c" stroke-width="1.6" stroke-linejoin="round"/><ellipse cx="270.7" cy="805.2" rx="4.6" ry="2.25" transform="rotate(-6 270.7 805.2)" fill="none" stroke="#8cba4c" stroke-width="1.3"/>
<path d="M263.7 809.5L296.1 809.5Q298.5 809.5 298.5 812L298.5 816Q298.5 818.5 296.1 818.5L263.7 818.5C258.8 818.5 258.8 809.5 263.7 809.5Z" fill="#e6ee88" stroke="#98bd4c" stroke-width="1.6" stroke-linejoin="round"/><ellipse cx="270.7" cy="814" rx="4.6" ry="2.3" transform="rotate(-6 270.7 814)" fill="none" stroke="#98bd4c" stroke-width="1.3"/>
<path d="M262.3 819.5L299.1 818.5Q301.5 818.5 301.5 821L301.5 825Q301.5 827.5 299.1 827.5L262.3 828.5C257.4 828.5 257.4 819.5 262.3 819.5Z" fill="#fff078" stroke="#f09a2c" stroke-width="1.6" stroke-linejoin="round"/><ellipse cx="269.3" cy="823.8" rx="4.6" ry="2.3" transform="rotate(-6 269.3 823.8)" fill="none" stroke="#f09a2c" stroke-width="1.3"/>
<path d="M262.3 828.5L301.1 827.5Q303.5 827.5 303.5 830L303.5 835.5Q303.5 838 301.1 838L262.3 839C257.4 839 257.4 828.5 262.3 828.5Z" fill="#fff078" stroke="#f09a2c" stroke-width="1.6" stroke-linejoin="round"/><ellipse cx="269.3" cy="833.5" rx="4.6" ry="2.3" transform="rotate(-6 269.3 833.5)" fill="none" stroke="#f09a2c" stroke-width="1.3"/>
<path d="M262.3 839L301.1 838Q303.5 838 303.5 840.5L303.5 846Q303.5 848.5 301.1 848.5L262.3 849.5C257.4 849.5 257.4 839 262.3 839Z" fill="#fff078" stroke="#f09a2c" stroke-width="1.6" stroke-linejoin="round"/><ellipse cx="269.3" cy="844" rx="4.6" ry="2.3" transform="rotate(-6 269.3 844)" fill="none" stroke="#f09a2c" stroke-width="1.3"/>
<path d="M262.3 849.5L301.1 848.5Q303.5 848.5 303.5 851L303.5 856.3Q303.5 858.8 301.1 858.8L262.3 859.8C257.4 859.8 257.4 849.5 262.3 849.5Z" fill="#c3161c" stroke="#a61217" stroke-width="1.6" stroke-linejoin="round"/><ellipse cx="269.3" cy="854.4" rx="4.6" ry="2.3" transform="rotate(-6 269.3 854.4)" fill="none" stroke="#a61217" stroke-width="1.3"/>
<path d="M339.7 690.5L310.2 690.5Q307.8 690.5 307.8 693L307.8 699.1Q307.8 701.6 310.2 701.6L339.7 701.6C344.6 701.6 344.6 690.5 339.7 690.5Z" fill="#93ccd2" stroke="#42a6b6" stroke-width="1.6" stroke-linejoin="round"/><ellipse cx="332.7" cy="696" rx="4.6" ry="2.3" transform="rotate(6 332.7 696)" fill="none" stroke="#42a6b6" stroke-width="1.3"/>
<path d="M339.7 701.6L310.2 701.6Q307.8 701.6 307.8 704.1L307.8 711.1Q307.8 713.6 310.2 713.6L339.7 713.6C344.6 713.6 344.6 701.6 339.7 701.6Z" fill="#a4d0b8" stroke="#54aa60" stroke-width="1.6" stroke-linejoin="round"/><ellipse cx="332.7" cy="707.6" rx="4.6" ry="2.3" transform="rotate(6 332.7 707.6)" fill="none" stroke="#54aa60" stroke-width="1.3"/>
<path d="M339.7 713.6L310.2 713.6Q307.8 713.6 307.8 716.1L307.8 723.5Q307.8 726 310.2 726L339.7 726C344.6 726 344.6 713.6 339.7 713.6Z" fill="#9bc140" stroke="#479c2f" stroke-width="1.6" stroke-linejoin="round"/><ellipse cx="332.7" cy="719.8" rx="4.6" ry="2.3" transform="rotate(6 332.7 719.8)" fill="none" stroke="#479c2f" stroke-width="1.3"/>
<path d="M339.7 726L310.2 726Q307.8 726 307.8 728.5L307.8 735.2Q307.8 737.7 310.2 737.7L339.7 737.7C344.6 737.7 344.6 726 339.7 726Z" fill="#9bc140" stroke="#479c2f" stroke-width="1.6" stroke-linejoin="round"/><ellipse cx="332.7" cy="731.9" rx="4.6" ry="2.3" transform="rotate(6 332.7 731.9)" fill="none" stroke="#479c2f" stroke-width="1.3"/>
<path d="M339.7 737.7L310.2 737.7Q307.8 737.7 307.8 740.2L307.8 746.5Q307.8 749 310.2 749L339.7 749C344.6 749 344.6 737.7 339.7 737.7Z" fill="#9bc140" stroke="#479c2f" stroke-width="1.6" stroke-linejoin="round"/><ellipse cx="332.7" cy="743.4" rx="4.6" ry="2.3" transform="rotate(6 332.7 743.4)" fill="none" stroke="#479c2f" stroke-width="1.3"/>
<path d="M339.7 749L310.2 749Q307.8 749 307.8 751.5L307.8 758Q307.8 760.5 310.2 760.5L339.7 760.5C344.6 760.5 344.6 749 339.7 749Z" fill="#a2c546" stroke="#4c9e30" stroke-width="1.6" stroke-linejoin="round"/><ellipse cx="332.7" cy="754.8" rx="4.6" ry="2.3" transform="rotate(6 332.7 754.8)" fill="none" stroke="#4c9e30" stroke-width="1.3"/>
<path d="M339.7 760.5L309.4 760.5Q307 760.5 307 763L307 771Q307 773.5 309.4 773.5L339.7 773.5C344.6 773.5 344.6 760.5 339.7 760.5Z" fill="#d0e290" stroke="#86b84a" stroke-width="1.6" stroke-linejoin="round"/><ellipse cx="332.7" cy="767" rx="4.6" ry="2.3" transform="rotate(6 332.7 767)" fill="none" stroke="#86b84a" stroke-width="1.3"/>
<path d="M341 773.5L309.4 773.5Q307 773.5 307 776L307 785Q307 787.5 309.4 787.5L341 787.5C345.9 787.5 345.9 773.5 341 773.5Z" fill="#d0e290" stroke="#86b84a" stroke-width="1.6" stroke-linejoin="round"/><ellipse cx="334" cy="780.5" rx="4.6" ry="2.3" transform="rotate(6 334 780.5)" fill="none" stroke="#86b84a" stroke-width="1.3"/>
<path d="M341 787.5L309.4 787.5Q307 787.5 307 790L307 801Q307 803.5 309.4 803.5L341 803.5C345.9 803.5 345.9 787.5 341 787.5Z" fill="#d8e88e" stroke="#8cba4c" stroke-width="1.6" stroke-linejoin="round"/><ellipse cx="334" cy="795.5" rx="4.6" ry="2.3" transform="rotate(6 334 795.5)" fill="none" stroke="#8cba4c" stroke-width="1.3"/>
<path d="M344 805L310.4 803.5Q308 803.5 308 806L308 818Q308 820.5 310.4 820.5L344 822C348.9 822 348.9 805 344 805Z" fill="#e6ee88" stroke="#98bd4c" stroke-width="1.6" stroke-linejoin="round"/><ellipse cx="337" cy="813.2" rx="4.6" ry="2.3" transform="rotate(6 337 813.2)" fill="none" stroke="#98bd4c" stroke-width="1.3"/>
<path d="M351.3 822L312.4 820.5Q310 820.5 310 823L310 831Q310 833.5 312.4 833.5L351.3 835C356.2 835 356.2 822 351.3 822Z" fill="#fff078" stroke="#f09a2c" stroke-width="1.6" stroke-linejoin="round"/><ellipse cx="344.3" cy="828.2" rx="4.6" ry="2.3" transform="rotate(6 344.3 828.2)" fill="none" stroke="#f09a2c" stroke-width="1.3"/>
<path d="M351.3 835L312.4 833.5Q310 833.5 310 836L310 843.5Q310 846 312.4 846L351.3 847.5C356.2 847.5 356.2 835 351.3 835Z" fill="#fff078" stroke="#f09a2c" stroke-width="1.6" stroke-linejoin="round"/><ellipse cx="344.3" cy="841" rx="4.6" ry="2.3" transform="rotate(6 344.3 841)" fill="none" stroke="#f09a2c" stroke-width="1.3"/>
<path d="M351.3 847.5L312.4 846Q310 846 310 848.5L310 855Q310 857.5 312.4 857.5L351.3 859C356.2 859 356.2 847.5 351.3 847.5Z" fill="#fff078" stroke="#f09a2c" stroke-width="1.6" stroke-linejoin="round"/><ellipse cx="344.3" cy="853" rx="4.6" ry="2.3" transform="rotate(6 344.3 853)" fill="none" stroke="#f09a2c" stroke-width="1.3"/>
<path d="M351.3 859.5L312.4 855.5Q310 855.5 310 858L310 869.5Q310 872 312.4 872L351.3 876C356.2 876 356.2 859.5 351.3 859.5Z" fill="#c3161c" stroke="#a61217" stroke-width="1.6" stroke-linejoin="round"/><ellipse cx="344.3" cy="867" rx="4.6" ry="2.3" transform="rotate(6 344.3 867)" fill="none" stroke="#a61217" stroke-width="1.3"/>
<ellipse cx="307.6" cy="804.6" rx="5.3" ry="9.3" fill="#c3db86" stroke="#6aa63e" stroke-width="1.3"/>
<path d="M307.6 798l-2.8 4.4h5.6zM307.6 811.2l-2.8 -4.4h5.6z" fill="#3c9c3c"/>
<circle cx="292.7" cy="717.7" r="1.6" fill="none" stroke="#469a2e" stroke-width="0.9"/><circle cx="288.4" cy="718.2" r="1.6" fill="none" stroke="#469a2e" stroke-width="0.9"/><circle cx="289.8" cy="719.5" r="1.6" fill="none" stroke="#469a2e" stroke-width="0.9"/><circle cx="289.5" cy="718.4" r="1.6" fill="none" stroke="#469a2e" stroke-width="0.9"/><circle cx="289.3" cy="720.1" r="1.6" fill="none" stroke="#469a2e" stroke-width="0.9"/><circle cx="290.5" cy="720" r="1.6" fill="none" stroke="#469a2e" stroke-width="0.9"/><circle cx="292" cy="716.8" r="1.6" fill="none" stroke="#469a2e" stroke-width="0.9"/>
<circle cx="291.9" cy="746.2" r="1.6" fill="none" stroke="#469a2e" stroke-width="0.9"/><circle cx="292.8" cy="750.8" r="1.6" fill="none" stroke="#469a2e" stroke-width="0.9"/><circle cx="291.2" cy="747.9" r="1.6" fill="none" stroke="#469a2e" stroke-width="0.9"/><circle cx="293" cy="749.5" r="1.6" fill="none" stroke="#469a2e" stroke-width="0.9"/><circle cx="293.4" cy="751.5" r="1.6" fill="none" stroke="#469a2e" stroke-width="0.9"/><circle cx="291.8" cy="749.2" r="1.6" fill="none" stroke="#469a2e" stroke-width="0.9"/>
<circle cx="309.8" cy="731.2" r="1.6" fill="none" stroke="#469a2e" stroke-width="0.9"/><circle cx="313.6" cy="732.9" r="1.6" fill="none" stroke="#469a2e" stroke-width="0.9"/><circle cx="317.9" cy="733.3" r="1.6" fill="none" stroke="#469a2e" stroke-width="0.9"/><circle cx="312.9" cy="730.3" r="1.6" fill="none" stroke="#469a2e" stroke-width="0.9"/><circle cx="310.2" cy="732.6" r="1.6" fill="none" stroke="#469a2e" stroke-width="0.9"/><circle cx="310.3" cy="734.4" r="1.6" fill="none" stroke="#469a2e" stroke-width="0.9"/><circle cx="312.3" cy="736.7" r="1.6" fill="none" stroke="#469a2e" stroke-width="0.9"/><circle cx="310.2" cy="732" r="1.6" fill="none" stroke="#469a2e" stroke-width="0.9"/><circle cx="311.4" cy="730.9" r="1.6" fill="none" stroke="#469a2e" stroke-width="0.9"/>
<circle cx="292.6" cy="771.8" r="1.6" fill="none" stroke="#84b14a" stroke-width="0.9"/><circle cx="295" cy="770.6" r="1.6" fill="none" stroke="#84b14a" stroke-width="0.9"/><circle cx="291.1" cy="772.9" r="1.6" fill="none" stroke="#84b14a" stroke-width="0.9"/><circle cx="292.2" cy="770.8" r="1.6" fill="none" stroke="#84b14a" stroke-width="0.9"/><circle cx="292.2" cy="771.1" r="1.6" fill="none" stroke="#84b14a" stroke-width="0.9"/><circle cx="291.2" cy="771.2" r="1.6" fill="none" stroke="#84b14a" stroke-width="0.9"/>
<circle cx="186.4" cy="644.9" r="1.3" fill="none" stroke="#1d52ba" stroke-width="0.9"/><circle cx="188.6" cy="644.5" r="1.3" fill="none" stroke="#1d52ba" stroke-width="0.9"/><circle cx="186.3" cy="645.5" r="1.3" fill="none" stroke="#1d52ba" stroke-width="0.9"/><circle cx="187.4" cy="645" r="1.3" fill="none" stroke="#1d52ba" stroke-width="0.9"/><circle cx="188.7" cy="646.3" r="1.3" fill="none" stroke="#1d52ba" stroke-width="0.9"/><circle cx="187.2" cy="646.9" r="1.3" fill="none" stroke="#1d52ba" stroke-width="0.9"/>
<circle cx="334.4" cy="654.4" r="1.3" fill="none" stroke="#1d52ba" stroke-width="0.9"/><circle cx="334.6" cy="656.6" r="1.3" fill="none" stroke="#1d52ba" stroke-width="0.9"/><circle cx="336.4" cy="656.3" r="1.3" fill="none" stroke="#1d52ba" stroke-width="0.9"/><circle cx="334.3" cy="655.2" r="1.3" fill="none" stroke="#1d52ba" stroke-width="0.9"/><circle cx="334.3" cy="654.8" r="1.3" fill="none" stroke="#1d52ba" stroke-width="0.9"/><circle cx="335.6" cy="657.1" r="1.3" fill="none" stroke="#1d52ba" stroke-width="0.9"/>
<circle cx="385.4" cy="585.4" r="1.2" fill="none" stroke="#1d52ba" stroke-width="0.9"/><circle cx="388" cy="586.4" r="1.2" fill="none" stroke="#1d52ba" stroke-width="0.9"/><circle cx="387.4" cy="586" r="1.2" fill="none" stroke="#1d52ba" stroke-width="0.9"/><circle cx="386.8" cy="588.6" r="1.2" fill="none" stroke="#1d52ba" stroke-width="0.9"/><circle cx="385.9" cy="586.1" r="1.2" fill="none" stroke="#1d52ba" stroke-width="0.9"/><circle cx="386.9" cy="586.9" r="1.2" fill="none" stroke="#1d52ba" stroke-width="0.9"/>
<path d="M263.3 858.8C263.8 860.5 264.6 865.7 266 869C267.4 872.3 269.8 875.7 272 878.5C274.2 881.3 276.8 883.8 279.5 886C282.2 888.2 285.1 889.9 288 891.5C290.9 893.1 293.7 894.2 297 895.5C300.3 896.8 304.3 898.9 308 899.3C311.7 899.7 315.6 898.4 319 897.8C322.4 897.2 325.5 896.5 328.5 895.5C331.5 894.5 334.3 893.1 337 891.5C339.7 889.9 342.3 888.6 344.5 886C346.7 883.4 349 878.5 350.3 876C351.6 873.5 352.1 871.8 352.5 871L310 857.5L304 858.5Z" fill="#fff" stroke="#767878" stroke-width="1.7" stroke-linejoin="round"/>
<path d="M307.8 864.5L268.5 874.5M307.8 864.5L279.5 886M307.8 864.5L290.5 892.8M307.8 864.5L308 899.3M307.8 864.5L328.5 895.5M307.8 864.5L344 886.5M307.8 864.5L307 858M344 886.5Q336 879 322 876" fill="none" stroke="#767878" stroke-width="1.6" stroke-linecap="round"/>
<ellipse cx="275" cy="863.5" rx="3.8" ry="2.6" transform="rotate(-20 275 863.5)" fill="#fff" stroke="#767878" stroke-width="1.2"/>
<ellipse cx="281" cy="876" rx="3.3" ry="1.9" transform="rotate(-35 281 876)" fill="#fff" stroke="#767878" stroke-width="1.2"/>
<ellipse cx="297.5" cy="873" rx="2.8" ry="1.6" transform="rotate(-50 297.5 873)" fill="#fff" stroke="#767878" stroke-width="1.2"/>
<ellipse cx="299.5" cy="885.5" rx="4.4" ry="2.5" transform="rotate(-70 299.5 885.5)" fill="#fff" stroke="#767878" stroke-width="1.2"/>
<ellipse cx="320.5" cy="889.5" rx="4.4" ry="2.9" transform="rotate(-10 320.5 889.5)" fill="#fff" stroke="#767878" stroke-width="1.2"/>
<ellipse cx="335.5" cy="874" rx="4.2" ry="1.8" transform="rotate(15 335.5 874)" fill="#fff" stroke="#767878" stroke-width="1.2"/>
<ellipse cx="338.5" cy="884.5" rx="3.2" ry="1.7" transform="rotate(10 338.5 884.5)" fill="#fff" stroke="#767878" stroke-width="1.2"/>
<path d="M311.5 853.8Q333 856 352.5 859.3Q355.5 860 355.3 863Q354.8 870 351.8 875.6Q332 867 311.8 861.2Q310 860.5 310 857.5Q310 853.8 311.5 853.8Z" fill="#c3161c" stroke="#a61217" stroke-width="1.5" stroke-linejoin="round"/>
<ellipse cx="338.5" cy="863.3" rx="4.4" ry="2.4" transform="rotate(12 338.5 863.3)" fill="none" stroke="#9a0f14" stroke-width="1.2"/>
<path d="M303.8 846L310.3 846L310 858L308 866.5L306.6 866.5L304.6 858Z" fill="#5f6363"/>
<path d="M141.2 666.3L160.2 682" fill="none" stroke="#3fb6f6" stroke-width="1.5" stroke-linecap="round"/>
<path d="M127 112.6H111.35V306.3" fill="none" stroke="#141414" stroke-width="4.3"/>
<path d="M111.35 376.8V681.1H127" fill="none" stroke="#141414" stroke-width="4.3"/>
<path d="M127 687H111.35V746.3" fill="none" stroke="#141414" stroke-width="4.3"/>
<path d="M111.35 816.8V902H127" fill="none" stroke="#141414" stroke-width="4.3"/>
<path d="M538.3 341.8L567.3 339.7" fill="none" stroke="#141414" stroke-width="4.8"/>
<path d="M344.8 889.8L402.2 920.6" fill="none" stroke="#141414" stroke-width="4.4"/>
<g font-family="'Liberation Sans', Arial, sans-serif" font-weight="bold" fill="#161616" stroke="#161616" stroke-linejoin="round">
<text transform="translate(394.4 36) scale(1.0487 1)" font-size="28.3" stroke-width="0.9" xml:space="preserve">lumen of</text>
<text transform="translate(354.5 71) scale(1.0384 1)" font-size="28.3" stroke-width="0.9" xml:space="preserve">small intestine</text>
<text transform="translate(58.6 336) scale(1.0309 1)" font-size="28.3" stroke-width="0.9" xml:space="preserve">zone of</text>
<text transform="translate(11.3 370.2) scale(1.0890 1)" font-size="28.3" stroke-width="0.9" xml:space="preserve">differentiation</text>
<text transform="translate(578.6 346) scale(1.0153 1)" font-size="28.3" stroke-width="0.9" xml:space="preserve">villus</text>
<text transform="translate(58.6 776) scale(1.0309 1)" font-size="28.3" stroke-width="0.9" xml:space="preserve">zone of</text>
<text transform="translate(25.4 810.4) scale(1.0700 1)" font-size="28.3" stroke-width="0.9" xml:space="preserve">proliferation</text>
<text transform="translate(146.1 874.6) scale(1.0453 1)" font-size="28.3" stroke-width="0.9" xml:space="preserve">crypt</text>
<text transform="translate(147.2 910.2) scale(0.9979 1)" font-size="28.3" stroke-width="0.9" xml:space="preserve">250 cells</text>
<text transform="translate(147.7 945) scale(0.9862 1)" font-size="28.3" stroke-width="0.9" xml:space="preserve">16 cells/</text>
<text transform="translate(146.1 980.5) scale(1.0211 1)" font-size="28.3" stroke-width="0.9" xml:space="preserve">circumference</text>
<text transform="translate(473.9 663.7) scale(1.0630 1)" font-size="28.3" stroke-width="0.9" xml:space="preserve">150</text>
<text transform="translate(411 698.6) scale(1.0712 1)" font-size="28.3" stroke-width="0.9" xml:space="preserve">proliferative</text>
<text transform="translate(467.9 733.8) scale(0.9626 1)" font-size="28.3" stroke-width="0.9" xml:space="preserve">cells</text>
<text transform="translate(440.7 770.2) scale(0.9978 1)" font-size="28.3" stroke-width="0.9" xml:space="preserve">T<tspan font-size="22" dy="8.2" dx="-1">c</tspan><tspan dy="-8.2" dx="-1.5"> = 12 h</tspan></text>
<text transform="translate(426.2 818.3) scale(1.0462 1)" font-size="28.3" stroke-width="0.9" xml:space="preserve">4–6 actual</text>
<text transform="translate(429.3 852.6) scale(0.9945 1)" font-size="28.3" stroke-width="0.9" xml:space="preserve">stem cells</text>
<text transform="translate(387.2 888.7) scale(1.0287 1)" font-size="28.3" stroke-width="0.9" xml:space="preserve">cell position ~ 4</text>
<text transform="translate(410.3 931.2) scale(1.0117 1)" font-size="28.3" stroke-width="0.9" xml:space="preserve">Paneth cells</text>
<text transform="translate(356.5 692.7) scale(1.0975 1)" font-size="28.3" stroke-width="0.9" xml:space="preserve">20</text>
<text transform="translate(347.5 738.9) scale(1.0567 1)" font-size="28.3" stroke-width="0.9" xml:space="preserve">15</text>
<text transform="translate(346.1 801.7) scale(1.0746 1)" font-size="28.3" stroke-width="0.9" xml:space="preserve">10</text>
<text transform="translate(361.7 864.8) scale(0.9733 1)" font-size="28.3" stroke-width="0.9" xml:space="preserve">5</text>
<text transform="translate(319.6 930.9) scale(0.7719 1)" font-size="28.3" stroke-width="0.9" xml:space="preserve">1</text>
<text transform="translate(9.5 1016.8) scale(1.0010 1)" font-size="17.4" stroke-width="0.3" xml:space="preserve">Figure </text>
<text transform="translate(68.5 1016.8) scale(1.0034 1)" font-size="17.4" stroke-width="0.3" xml:space="preserve">12-2a  </text>
<text transform="translate(123.8 1016.8) scale(0.9443 1)" font-size="17.4" stroke-width="0.3" xml:space="preserve">The </text>
<text transform="translate(157.6 1016.8) scale(0.9785 1)" font-size="17.4" stroke-width="0.3" xml:space="preserve">Biology </text>
<text transform="translate(224.4 1016.8) scale(0.9688 1)" font-size="17.4" stroke-width="0.3" xml:space="preserve">of </text>
<text transform="translate(245.5 1016.8) scale(0.9614 1)" font-size="17.4" stroke-width="0.3" xml:space="preserve">Cancer </text>
<text transform="translate(306 1016.8) scale(1.0197 1)" font-size="17.4" stroke-width="0.3" xml:space="preserve">(© </text>
<text transform="translate(328.9 1016.8) scale(1.0241 1)" font-size="17.4" stroke-width="0.3" xml:space="preserve">Garland </text>
<text transform="translate(400.5 1016.8) scale(0.9266 1)" font-size="17.4" stroke-width="0.3" xml:space="preserve">Science </text>
<text transform="translate(466.9 1016.8) scale(1.0543 1)" font-size="17.4" stroke-width="0.3" xml:space="preserve">2007)</text>
</g>
</svg>
</body></html>
